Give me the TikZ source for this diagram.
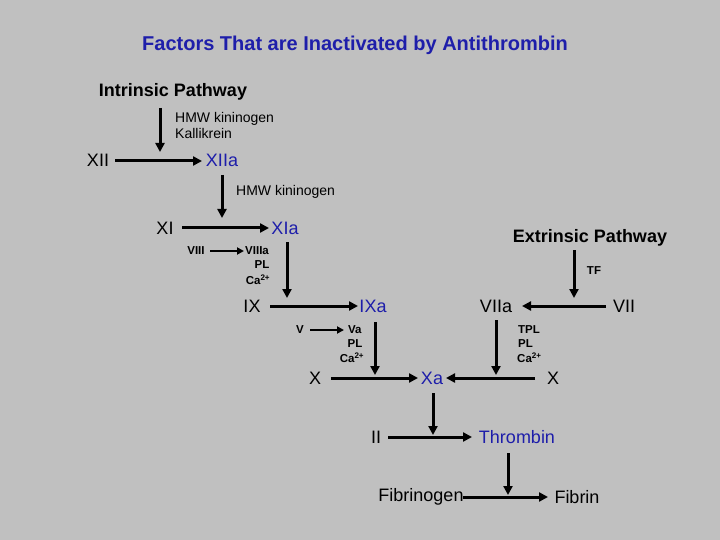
\documentclass[tikz,border=0pt]{standalone}
\usepackage{fontspec}
\setmainfont{Liberation Sans}
\usetikzlibrary{arrows.meta}
\definecolor{bg}{RGB}{192,192,192}
\definecolor{fblue}{RGB}{30,30,170}
\begin{document}
\begin{tikzpicture}[x=1pt,y=-1pt,
  big/.style={font=\fontsize{18}{20}\selectfont,inner sep=0pt},
  act/.style={big,text=fblue},
  sm/.style={font=\fontsize{14}{16}\selectfont,inner sep=0pt},
  tiny/.style={font=\fontsize{11.5}{12}\selectfont\bfseries,inner sep=0pt},
  ar/.style={line width=3pt,-{Triangle[length=9pt,width=9pt]}},
  thin/.style={line width=2pt,-{Triangle[length=7pt,width=7pt]}}]
\fill[bg] (0,0) rectangle (720,540);
\useasboundingbox (0,0) rectangle (720,540);
\node[font=\fontsize{20}{22}\selectfont\bfseries,text=fblue] (title) at (355,45) {Factors That are Inactivated by Antithrombin};
\node[font=\fontsize{18}{20}\selectfont\bfseries] (intr) at (173,92) {Intrinsic Pathway};
\node[font=\fontsize{18}{20}\selectfont\bfseries] (extr) at (590,238) {Extrinsic Pathway};
% XII -> XIIa
\coordinate (a1s) at (160,108); \coordinate (a1e) at (160,152);
\node[sm,anchor=west,align=left] (hk1) at (175,125) {HMW kininogen\\Kallikrein};
\node[big] (xii) at (98,160) {XII};
\node[act] (xiia) at (222,160) {XIIa};
\draw[ar] (a1s) -- (a1e);
\draw[ar] (115,161) -- (202,161);
% XI -> XIa
\coordinate (a2s) at (222,175); \coordinate (a2e) at (222,218);
\node[sm,anchor=west] (hk2) at (236,192) {HMW kininogen};
\node[big] (xi) at (165,228) {XI};
\node[act] (xia) at (285,228) {XIa};
\draw[ar] (a2s) -- (a2e);
\draw[ar] (182,228) -- (269,228);
\node[tiny] (viii) at (196,251) {VIII};
\node[tiny,anchor=west] (viiia) at (245,251) {VIIIa};
\node[tiny] (pl1) at (262,265) {PL};
\node[tiny] (ca1) at (258,280) {Ca\textsuperscript{2+}};
\draw[thin] (210,251) -- (244,251);
% IX -> IXa
\coordinate (a3s) at (287,242); \coordinate (a3e) at (287,298);
\draw[ar] (a3s) -- (a3e);
\node[big] (ix) at (252,306) {IX};
\node[act] (ixa) at (373,306) {IXa};
\draw[ar] (270,306) -- (358,306);
% extrinsic
\node[tiny] (tf) at (594,271) {TF};
\coordinate (a4s) at (574,250); \coordinate (a4e) at (574,298);
\draw[ar] (a4s) -- (a4e);
\node[big] (viia) at (496,306) {VIIa};
\node[big] (vii) at (624,306) {VII};
\draw[ar] (606,306) -- (522,306);
% V
\node[tiny] (v) at (300,330) {V};
\node[tiny,anchor=west] (va) at (348,330) {Va};
\node[tiny] (pl2) at (355,344) {PL};
\node[tiny] (ca2) at (352,358) {Ca\textsuperscript{2+}};
\draw[thin] (310,330) -- (344,330);
\coordinate (a5s) at (375,322); \coordinate (a5e) at (375,375);
\draw[ar] (a5s) -- (a5e);
\coordinate (a6s) at (496,320); \coordinate (a6e) at (496,375);
\draw[ar] (a6s) -- (a6e);
\node[tiny,anchor=west] (tpl) at (518,330) {TPL};
\node[tiny,anchor=west] (pl3) at (518,344) {PL};
\node[tiny,anchor=west] (ca3) at (517,358) {Ca\textsuperscript{2+}};
% X -> Xa
\node[big] (x1) at (315,378) {X};
\node[act] (xa) at (432,378) {Xa};
\node[big] (x2) at (553,378) {X};
\draw[ar] (331,378) -- (418,378);
\draw[ar] (535,378) -- (446,378);
% II -> Thrombin
\coordinate (a7s) at (433,393); \coordinate (a7e) at (433,435);
\draw[ar] (a7s) -- (a7e);
\node[big] (ii) at (376,437) {II};
\node[act] (thr) at (517,437) {Thrombin};
\draw[ar] (388,437) -- (472,437);
% Fibrinogen -> Fibrin
\coordinate (a8s) at (508,453); \coordinate (a8e) at (508,495);
\draw[ar] (a8s) -- (a8e);
\node[big] (fbg) at (421,497) {Fibrinogen};
\node[big] (fib) at (577,497) {Fibrin};
\draw[ar] (463,497) -- (548,497);
\end{tikzpicture}
\end{document}
